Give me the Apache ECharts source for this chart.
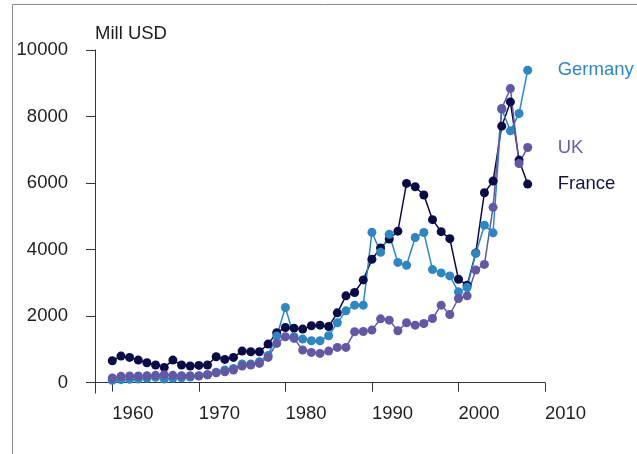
<!DOCTYPE html>
<html>
<head>
<meta charset="utf-8">
<script src="https://cdn.jsdelivr.net/npm/echarts@6/dist/echarts.min.js"></script>
<style>html,body{margin:0;padding:0;background:#fff}#c{width:637px;height:454px}</style>
</head>
<body>
<div id="c"></div>
<script>
var years = [];
for (var y = 1960; y <= 2008; y++) years.push(y);

var franceValues = [660,800,760,680,600,530,460,680,530,500,
  520,530,780,700,760,950,930,930,1160,1500,
  1660,1640,1610,1710,1730,1690,2100,2610,2710,3090,
  3710,4050,4320,4555,5990,5890,5640,4900,4540,4330,
  3110,2930,3900,5710,6060,7710,8440,6690,5970];
var germanyValues = [70,90,100,110,130,160,110,130,150,170,
  200,240,310,380,430,560,560,630,820,1400,
  2260,1380,1310,1260,1260,1410,1800,2160,2330,2330,
  4520,3920,4460,3615,3530,4365,4515,3400,3300,3210,
  2730,2870,3885,4735,4505,8220,7570,8090,9390];
var ukValues = [140,190,200,200,210,220,240,220,210,210,
  210,240,300,330,380,500,530,580,760,1180,
  1380,1330,980,910,880,950,1060,1060,1530,1540,
  1580,1920,1880,1560,1800,1730,1780,1930,2330,2050,
  2530,2610,3385,3555,5270,8240,8840,6590,7070];

var xTicks = [1960,1970,1980,1990,2000,2010];
var yTicks = [0,2000,4000,6000,8000,10000];
var unitLabel = 'Mill USD';

function pairs(vals){ return years.map(function(yr,i){ return [yr, vals[i]]; }); }

var FONT = 'Liberation Sans, Arial, sans-serif';
function mk(name, vals, color, textColor){
  return {
    name: name, type: 'line', data: pairs(vals),
    symbol: 'circle', symbolSize: 9,
    itemStyle: {color: color},
    lineStyle: {color: color, width: 1.5},
    endLabel: {show: true, formatter: name, color: textColor, fontSize: 18.5,
      fontFamily: FONT, distance: 30},
    emphasis: {disabled: true}
  };
}

var chart = echarts.init(document.getElementById('c'), null, {renderer: 'canvas'});
chart.setOption({
  animation: false,
  backgroundColor: '#fff',
  grid: {left: 95, right: 92, top: 50, bottom: 61},
  xAxis: {
    type: 'value', min: 1958, max: 2010,
    axisLine: {show: true, lineStyle: {color: '#333', width: 1}},
    axisTick: {show: true, length: 9, lineStyle: {color: '#333'}, customValues: xTicks},
    axisLabel: {customValues: xTicks, align: 'left', color: '#1e1e1e', fontSize: 18.5,
      fontFamily: FONT, margin: 11, formatter: function(v){ return String(v); }},
    splitLine: {show: false}
  },
  yAxis: {
    type: 'value', min: -310, max: 10000,
    axisLine: {show: true, lineStyle: {color: '#333', width: 1}},
    axisTick: {show: true, length: 9, lineStyle: {color: '#333'}, customValues: yTicks},
    axisLabel: {customValues: yTicks, color: '#1e1e1e', fontSize: 18.5, fontFamily: FONT,
      margin: 27, formatter: function(v){ return String(v); }},
    splitLine: {show: false}
  },
  graphic: [
    {type: 'line', shape: {x1: 12.5, y1: 4.5, x2: 637, y2: 4.5}, style: {stroke: '#8c8c8c', lineWidth: 1}},
    {type: 'line', shape: {x1: 12.5, y1: 4.5, x2: 12.5, y2: 454}, style: {stroke: '#8c8c8c', lineWidth: 1}},
    {type: 'text', left: 95, top: 24, style: {text: unitLabel, fill: '#1e1e1e', fontSize: 18.5, fontFamily: FONT}}
  ],
  series: [
    mk('France', franceValues, '#0b0b48', '#14144a'),
    mk('Germany', germanyValues, '#2a87c3', '#2e87c6'),
    mk('UK', ukValues, '#6258a6', '#6a5fa8')
  ]
});
</script>
</body>
</html>
